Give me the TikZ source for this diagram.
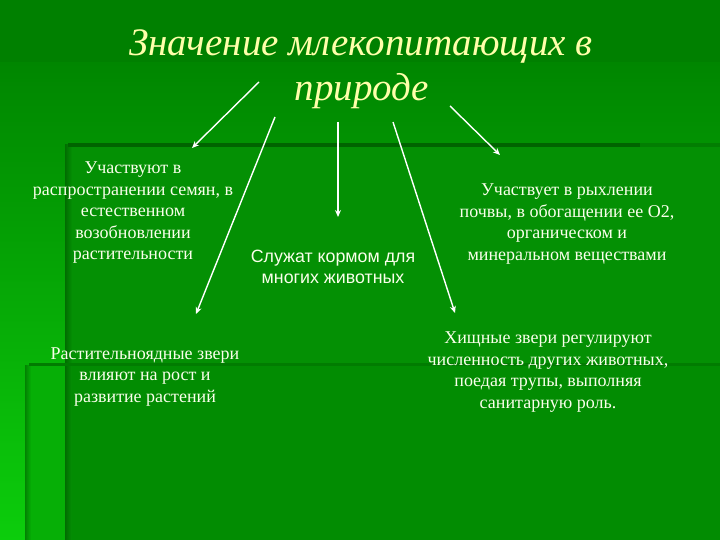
\documentclass[tikz,border=0pt]{standalone}
\usepackage{fontspec}
\setmainfont{Liberation Serif}
\newfontfamily\titlefont{Liberation Serif}
\newfontfamily\armfont{Liberation Sans}
\usetikzlibrary{arrows.meta}
\definecolor{topgreen}{RGB}{0,128,0}
\definecolor{basetop}{RGB}{0,134,0}
\definecolor{basebot}{RGB}{12,205,12}
\definecolor{panelA}{RGB}{4,144,4}
\definecolor{panelB}{RGB}{2,140,2}
\definecolor{stripB}{RGB}{6,175,6}
\definecolor{edge}{RGB}{0,100,0}
\definecolor{titlecol}{RGB}{255,255,170}
\definecolor{txtcol}{RGB}{250,255,235}
\tikzset{
  x=1pt, y=-1pt,
  ttl/.style={text=titlecol, font=\titlefont\itshape\fontsize{39}{40}\selectfont, inner sep=0pt},
  body/.style={text=txtcol, font=\fontsize{18}{21.5}\selectfont, align=center, inner sep=0pt},
  bodysans/.style={text=txtcol, font=\armfont\fontsize{17.8}{21.5}\selectfont, align=center, inner sep=0pt},
  conn/.style={draw=white, line width=1.4pt, -{Stealth[length=7pt,width=6pt]}},
}
\begin{document}
\begin{tikzpicture}
\useasboundingbox (0,0) rectangle (720,540);
% background
\shade[top color=basetop, bottom color=basebot] (0,62) rectangle (720,540);
\fill[topgreen] (0,0) rectangle (720,62);
\fill[panelA] (68,145) rectangle (720,540);
\fill[stripB] (27,365) rectangle (68,540);
\fill[panelB] (68,365) rectangle (720,540);
\shade[left color=edge!80!panelA, right color=panelA] (65,145) rectangle (72,540);
\shade[left color=edge!60!stripB, right color=stripB] (25,365) rectangle (31,540);
\fill[edge] (68,143) rectangle (640,147);
\fill[edge!40!panelA] (640,143) rectangle (720,147);
\fill[edge!40!panelB] (29,363) rectangle (720,366);
% title
\node[ttl] (t1) at (361,46) {Значение млекопитающих в};
\node[ttl] (t2) at (362,91) {природе};
% boxes
\node[body] (a) at (133,213) {Участвуют в\\распространении семян, в\\естественном\\возобновлении\\растительности};
\node[bodysans] (c) at (333,267) {Служат кормом для\\многих животных};
\node[body] (b) at (567,224) {Участвует в рыхлении\\почвы, в обогащении ее О2,\\органическом и\\минеральном веществами};
\node[body] (d) at (145,377) {Растительноядные звери\\влияют на рост и\\развитие растений};
\node[body] (e) at (548,372) {Хищные звери регулируют\\численность других животных,\\поедая трупы, выполняя\\санитарную роль.};
% connector anchors
\coordinate (s1) at (259,82);
\coordinate (e1) at (192,148);
\coordinate (s2) at (275,117);
\coordinate (e2) at (196,314);
\coordinate (s3) at (338,122);
\coordinate (e3) at (338,217);
\coordinate (s4) at (393,122);
\coordinate (e4) at (455,313);
\coordinate (s5) at (450,106);
\coordinate (e5) at (500,155);
\draw[conn] (s1) -- (e1);
\draw[conn] (s2) -- (e2);
\draw[conn] (s3) -- (e3);
\draw[conn] (s4) -- (e4);
\draw[conn] (s5) -- (e5);
\end{tikzpicture}
\end{document}
